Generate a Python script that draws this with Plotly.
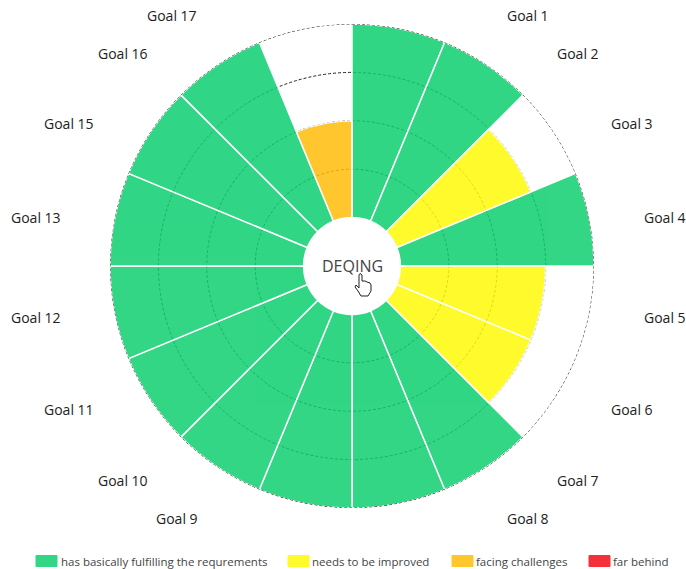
import numpy as np
import plotly.graph_objects as go

W, H = 686, 569

goals = ["Goal 1", "Goal 2", "Goal 3", "Goal 4", "Goal 5", "Goal 6", "Goal 7", "Goal 8",
         "Goal 9", "Goal 10", "Goal 11", "Goal 12", "Goal 13", "Goal 15", "Goal 16", "Goal 17"]
scores = [4, 4, 3, 4, 3, 3, 4, 4, 4, 4, 4, 4, 4, 4, 4, 2]
status = [0, 0, 1, 0, 1, 1, 0, 0, 0, 0, 0, 0, 0, 0, 0, 2]
status_names = ["has basically fulfilling the requrements", "needs to be improved",
                "facing challenges", "far behind"]
# slightly deeper than the visible colours: drawn at 85% opacity so the rings show through
status_colors = ["#33D685", "#FFFA2B", "#FFC62E", "#F5303A"]
bar_colors = ["#0FCF70", "#FFF906", "#FFBC09", "#F41D28"]
center_label = "DEQING"

# layout helpers (pixel positions of the text labels, not data)
label_px = [(528, 15), (577.5, 53), (631.5, 124), (664.5, 217), (664.5, 317), (631.5, 409), (577.5, 480), (528, 518),
            (177, 518), (122.5, 480), (69, 409), (35.5, 317), (35.5, 217), (69, 124), (122.5, 53), (172, 15)]
legend_px = [(36, 59), (288, 310), (452, 474), (589, 611)]
LEGEND_Y = 561


def px(x, y):
    return x / W, 1 - y / H


fig = go.Figure()
step = 360 / len(goals)
thetas = [step / 2 + i * step for i in range(len(goals))]

for k, name in enumerate(status_names):
    r = [s if st == k else None for s, st in zip(scores, status)]
    fig.add_trace(go.Barpolar(r=r, theta=thetas, width=step, name=name, opacity=0.85,
                              marker=dict(color=bar_colors[k], line=dict(color="white", width=1.5)),
                              showlegend=False, hoverinfo="skip"))

# outer ring: the axis does not draw a grid circle at the very edge of its range
ring_theta = np.linspace(0, 360, 721)
fig.add_trace(go.Scatterpolar(r=[4] * len(ring_theta), theta=ring_theta, mode="lines",
                              line=dict(color="#222222", width=1, dash="3px,2px"),
                              showlegend=False, hoverinfo="skip"))

cx, cy, R = 352, 266, 242
x0, y1 = px(cx - R, cy - R)
x1, y0 = px(cx + R, cy + R)
fig.update_layout(
    width=W, height=H, margin=dict(l=0, r=0, t=0, b=0),
    paper_bgcolor="white", plot_bgcolor="white",
    font=dict(family="Open Sans, Noto Sans, sans-serif", color="#333"),
    polar=dict(
        domain=dict(x=[x0, x1], y=[y0, y1]),
        hole=0.2, bgcolor="white",
        barmode="overlay",
        radialaxis=dict(range=[0, 4], visible=True, showline=False, showticklabels=False, ticks="",
                        tickmode="array", tickvals=[1, 2, 3], showgrid=True,
                        gridcolor="#222", gridwidth=1, griddash="3px,2px"),
        angularaxis=dict(direction="clockwise", rotation=90, visible=False, showgrid=False),
    ),
)

annotations = []
for g, (lx, ly) in zip(goals, label_px):
    ax, ay = px(lx, ly)
    annotations.append(dict(text=g, x=ax, y=ay, xref="paper", yref="paper", showarrow=False,
                            xanchor="center", yanchor="middle", font=dict(size=14, color="#222")))
ax, ay = px(352, 266)
annotations.append(dict(text=center_label, x=ax, y=ay, xref="paper", yref="paper", showarrow=False,
                        xanchor="center", yanchor="middle", font=dict(size=16, color="#444")))

shapes = []
for name, color, (sx, tx) in zip(status_names, status_colors, legend_px):
    a, b = px(sx, LEGEND_Y - 5.5)
    c, d = px(sx + 21, LEGEND_Y + 5.5)
    shapes.append(dict(type="rect", xref="paper", yref="paper", x0=a, x1=c, y0=d, y1=b,
                       fillcolor=color, line=dict(color=color, width=1)))
    lx, ly = px(tx, LEGEND_Y)
    annotations.append(dict(text=name, x=lx, y=ly, xref="paper", yref="paper", showarrow=False,
                            xanchor="left", yanchor="middle", font=dict(size=11.5, color="#444")))

# hand cursor seen in the screenshot
hand = [(359, 286), (359, 275), (360, 273.5), (362, 275), (362, 281), (365, 281), (367, 282), (370, 283),
        (371, 285), (371, 291), (368, 296), (361, 296), (358, 291), (355, 287), (356, 285), (359, 288)]
path = ""
for i, (hx, hy) in enumerate(hand):
    a, b = px(hx, hy)
    path += ("M" if i == 0 else "L") + f"{a:.5f},{b:.5f} "
shapes.append(dict(type="path", xref="paper", yref="paper", path=path + "Z",
                   fillcolor="white", line=dict(color="#222", width=1)))

fig.update_layout(annotations=annotations, shapes=shapes)
fig.write_html("out.html", config=dict(displayModeBar=False),
               post_script="document.body.style.margin='0';")
